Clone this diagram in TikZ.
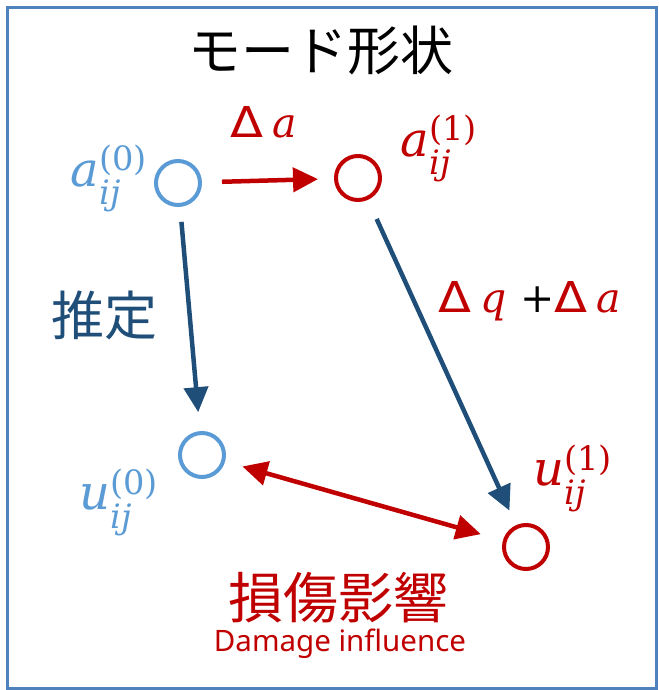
\documentclass[tikz,border=0pt]{standalone}
\usepackage{amsmath}
\usepackage{graphicx}
\usepackage[no-math]{fontspec}
\newfontfamily\cjk{Noto Sans CJK JP}
\newfontfamily\enfont{Noto Sans}
\newfontfamily\mfont{DejaVu Serif}
\newfontfamily\dfont{DejaVu Sans}
\usetikzlibrary{arrows.meta}
\definecolor{lblue}{HTML}{5B9BD5}
\definecolor{dblue}{HTML}{1F4E79}
\definecolor{myred}{HTML}{C00000}
\definecolor{framec}{HTML}{4F81BD}
\newcommand\mvar[1]{\text{\mfont\itshape #1}}
\newcommand\mup[1]{\text{\mfont #1}}
\newcommand\idxlab[2]{$\mvar{#1}_{\mvar{ij}}^{\mup{(#2)}}$}
\newcommand\dlt{\resizebox{33pt}{31pt}{\dfont Δ}}
\tikzset{
  circ/.style={circle, draw, line width=4pt, minimum size=44pt, inner sep=0pt, outer sep=0pt},
  bcirc/.style={circ, draw=lblue},
  rcirc/.style={circ, draw=myred},
  conn/.style={line width=4.5pt, -{Triangle[length=25pt,width=24pt]}},
  redarrow/.style={conn, draw=myred, fill=myred},
  bluearrow/.style={conn, draw=dblue, fill=dblue},
  dblarrow/.style={line width=4.5pt, draw=myred, fill=myred, {Triangle[length=25pt,width=24pt]}-{Triangle[length=25pt,width=24pt]}},
  mathlab/.style={inner sep=0pt, font=\fontsize{48}{54}\selectfont},
  smalllab/.style={inner sep=0pt, font=\mfont\fontsize{41}{46}\selectfont},
  jplab/.style={inner sep=0pt, font=\fontsize{53}{60}\selectfont\cjk}
}
\begin{document}
\begin{tikzpicture}[x=1pt,y=-1pt]
\useasboundingbox (0,0) rectangle (658,690);
\draw[framec, line width=2.2pt] (7.5,7.5) rectangle (656.5,688.5);
% title
\node[jplab, text=black] (title) at (321,50) {モード形状};
% circles
\node[bcirc] (a0) at (178,183) {};
\node[rcirc] (a1) at (358,178) {};
\node[bcirc] (u0) at (202,455) {};
\node[rcirc] (u1) at (526,547) {};
% labels
\node[mathlab, text=lblue] (a0lab) at (109,178) {\idxlab{a}{0}};
\node[mathlab, text=myred] (a1lab) at (439,148) {\idxlab{a}{1}};
\node[mathlab, text=lblue] (u0lab) at (119,502) {\idxlab{u}{0}};
\node[mathlab, text=myred] (u1lab) at (573,478) {\idxlab{u}{1}};
\node[smalllab, text=myred] (da) at (264,122) {\dlt\hspace{9pt}{\itshape a}};
\node[smalllab, text=myred] (dqa) at (530,301) {\dlt\hspace{9pt}{\itshape q}\hspace{13pt}\textcolor{black}{+}\hspace{0pt}\dlt\hspace{9pt}{\itshape a}};
\node[jplab, text=dblue] (est) at (104,315) {推定};
\node[jplab, text=myred, font=\fontsize{55}{60}\selectfont\cjk] (dmg) at (338,598) {損傷影響};
\node[inner sep=0pt, text=myred, font=\fontsize{29.5}{34}\selectfont\enfont] (dmgen) at (340,644) {Damage influence};
% connectors
\draw[redarrow, shorten <=22pt, shorten >=18pt] (a0) -- (a1);
\draw[bluearrow, shorten <=17pt, shorten >=21pt] (a0) -- (u0);
\draw[bluearrow, shorten <=23pt, shorten >=18pt] (a1) -- (u1);
\draw[dblarrow, shorten <=20pt, shorten >=25pt] (u0) -- (u1);
\end{tikzpicture}
\end{document}
